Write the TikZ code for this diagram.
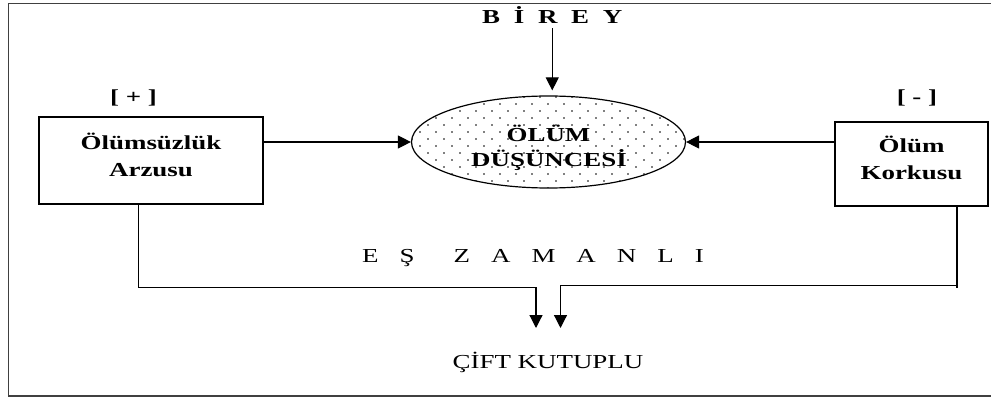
\documentclass[tikz,border=0pt]{standalone}
\usepackage{fontspec}
\setmainfont{Liberation Serif}
\usepackage{graphicx}
\usetikzlibrary{arrows.meta,shapes.geometric}
\newcommand{\stx}[1]{\scalebox{1.36}[1]{#1}}
\begin{document}
\begin{tikzpicture}[x=1pt,y=-1pt,
  font=\fontsize{19.8}{27}\selectfont,
  txt/.style={inner sep=0pt, anchor=base},
  btxt/.style={txt, font=\fontsize{19.8}{27}\selectfont\bfseries},
  box/.style={draw, line width=1.6pt, inner sep=0pt},
  arr/.style={line width=1.2pt, -{Triangle[length=13pt,width=13pt]}},
  frameline/.style={line width=1.5pt, black!75}]
\useasboundingbox (0,0) rectangle (991,398);
% frame
\draw[frameline] (991,3.5) -- (8.5,3.5) -- (8.5,396) -- (991,396);
% dotted fill of the ellipse
\begin{scope}
\clip (548.5,142) ellipse [x radius=137, y radius=46];
\foreach \j in {0,...,13} {
  \foreach \i in {0,...,18} {
    \fill ({412+\i*16+mod(\j,2)*8},{97+\j*7}) circle [radius=0.85pt];
  }
}
\end{scope}
% shapes
\node[draw, ellipse, line width=1.2pt, minimum width=274pt, minimum height=92pt, inner sep=0pt] (el) at (548.5,142) {};
\node[box, minimum width=224pt, minimum height=87pt] (lb) at (151,160.5) {};
\node[box, minimum width=153pt, minimum height=84pt] (rb) at (911.5,164) {};
\coordinate (ltip) at (536,328);
\coordinate (rtip) at (560.5,328);
% texts
\node[btxt, anchor=base west] (bt) at (482,24) {\stx{B}\hspace{13.7pt}\stx{İ}\hspace{13.7pt}\stx{R}\hspace{13.7pt}\stx{E}\hspace{13.7pt}\stx{Y}};
\node[btxt] (pl) at (133.5,104) {\stx{[ + ]}};
\node[btxt] (mi) at (917,104) {\stx{[ - ]}};
\node[btxt] (lt1) at (151,150) {\stx{Ölümsüzlük}};
\node[btxt] (lt2) at (151,177) {\stx{Arzusu}};
\node[btxt] (rt1) at (911.5,153) {\stx{Ölüm}};
\node[btxt] (rt2) at (911.5,180) {\stx{Korkusu}};
\node[btxt] (et1) at (548.5,142) {\stx{ÖLÜM}};
\node[btxt] (et2) at (549,167) {\stx{DÜŞÜNCESİ}};
\node[txt, anchor=base west] (ez) at (362,263) {\stx{E}\hspace{21pt}\stx{Ş}\hspace{39pt}\stx{Z}\hspace{21pt}\stx{A}\hspace{21pt}\stx{M}\hspace{21pt}\stx{A}\hspace{21pt}\stx{N}\hspace{21pt}\stx{L}\hspace{21pt}\stx{I}};
\node[txt] (ck) at (548,368) {\stx{ÇİFT KUTUPLU}};
% connectors
\draw[arr, shorten <=4pt, shorten >=5pt] (bt.south) -- (bt.south |- el.north);
\draw[arr] (el.west -| lb.east) -- (el.west);
\draw[arr] (el.east -| rb.west) -- (el.east);
\draw[arr] ([xshift=-12.5pt]lb.south) -- ++(0,83) -| (ltip);
\draw[arr] ([xshift=45.5pt]rb.south) -- ++(0,81) -- ++(0,-2) -| (rtip);
\end{tikzpicture}
\end{document}
